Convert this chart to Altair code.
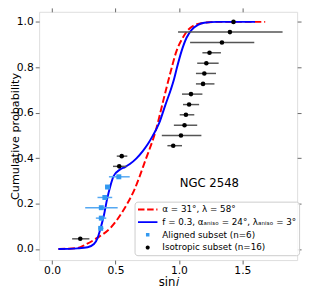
import altair as alt
import pandas as pd

# ---------------- data ----------------
# Isotropic model curve (red dashed)
red_x = [0.05, 0.20, 0.268, 0.358, 0.46, 0.562, 0.651, 0.735, 0.817, 0.875, 0.932, 0.98, 1.03, 1.073, 1.12, 1.20, 1.30, 1.68]
red_y = [0.0, 0.005, 0.021, 0.05, 0.093, 0.171, 0.264, 0.39, 0.521, 0.65, 0.775, 0.87, 0.93, 0.965, 0.985, 0.996, 1.0, 1.0]

# Mixture model curve (blue solid)
blue_x = [0.05, 0.20, 0.28, 0.33, 0.36, 0.383, 0.409, 0.434, 0.46, 0.485, 0.536, 0.575, 0.613, 0.665, 0.715, 0.755,
          0.792, 0.843, 0.894, 0.935, 0.96, 0.985, 1.02, 1.06, 1.10, 1.15, 1.20, 1.30, 1.60]
blue_y = [0.0, 0.003, 0.008, 0.022, 0.05, 0.093, 0.15, 0.221, 0.279, 0.321, 0.35, 0.361, 0.374, 0.399, 0.431, 0.462,
          0.497, 0.553, 0.636, 0.70, 0.745, 0.80, 0.87, 0.93, 0.965, 0.987, 0.996, 1.0, 1.0]

# Aligned subset (n=6)
al_x = [0.383, 0.388, 0.388, 0.416, 0.437, 0.526]
al_y = [0.091, 0.136, 0.182, 0.227, 0.273, 0.318]
al_lo = [0.366, 0.345, 0.261, 0.358, 0.417, 0.448]
al_hi = [0.405, 0.427, 0.517, 0.474, 0.453, 0.612]

# Isotropic subset (n=16)
iso_x = [0.222, 0.529, 0.549, 0.955, 1.016, 1.044, 1.055, 1.08, 1.095, 1.19, 1.20, 1.216, 1.241, 1.339, 1.402, 1.43]
iso_y = [0.045, 0.364, 0.409, 0.455, 0.500, 0.545, 0.591, 0.636, 0.682, 0.727, 0.773, 0.818, 0.864, 0.909, 0.955, 1.0]
iso_lo = [0.158, 0.48, 0.51, 0.909, 0.865, 0.96, 1.006, 1.032, 1.024, 1.134, 1.134, 1.144, 1.185, 1.088, 0.993, 1.43]
iso_hi = [0.294, 0.587, 0.593, 1.024, 1.177, 1.144, 1.121, 1.159, 1.185, 1.28, 1.292, 1.313, 1.331, 1.594, 1.817, 1.43]

legend_labels = [
    "α = 31°, λ = 58°",
    "f = 0.3, αₐₙᵢₛₒ = 24°, λₐₙᵢₛₒ = 3°",
    "Aligned subset (n=6)",
    "Isotropic subset (n=16)",
]
annotation = ["NGC 2548"]
x_ticks = [0.0, 0.5, 1.0, 1.5]
y_ticks = [0.0, 0.2, 0.4, 0.6, 0.8, 1.0]

# ---------------- frames ----------------
red_df = pd.DataFrame({"x": red_x, "y": red_y})
blue_df = pd.DataFrame({"x": blue_x, "y": blue_y})
al_df = pd.DataFrame({"x": al_x, "y": al_y, "lo": al_lo, "hi": al_hi})
iso_df = pd.DataFrame({"x": iso_x, "y": iso_y, "lo": iso_lo, "hi": iso_hi})
leg_df = pd.DataFrame({"label": legend_labels})
txt_df = pd.DataFrame({"x": [1.24], "y": [0.273], "t": annotation})

FONT = "DejaVu Sans"
AX = "#666666"
xs = alt.Scale(domain=[-0.102, 1.932], nice=False, zero=False)
ys = alt.Scale(domain=[-0.0486, 1.0443], nice=False, zero=False)

x_axis = alt.Axis(values=x_ticks, format=".1f", tickSize=4, tickColor=AX, domain=False, grid=False,
                  labelFontSize=11, labelColor="black", labelFont=FONT, labelPadding=1,
                  title="sin𝑖", titleFontSize=12, titleFontWeight="normal", titleFont=FONT,
                  titleColor="black", titlePadding=1)
y_axis = alt.Axis(values=y_ticks, format=".1f", tickSize=4, tickColor=AX, domain=False, grid=False,
                  labelFontSize=11, labelColor="black", labelFont=FONT, labelPadding=2,
                  title="Cumulative probability", titleFontSize=11.5, titleFontWeight="normal",
                  titleFont=FONT, titleColor="black", titleX=-30, titleAngle=270,
                  titleBaseline="top", titleAlign="center")
x_top = alt.Axis(orient="top", values=x_ticks, labels=False, title=None, tickSize=4, tickColor=AX,
                 domain=False, grid=False)
y_right = alt.Axis(orient="right", values=y_ticks, labels=False, title=None, tickSize=4, tickColor=AX,
                   domain=False, grid=False)

red = alt.Chart(red_df).mark_line(color="#ff0000", strokeWidth=2, strokeDash=[7, 3],
                                  interpolate="monotone").encode(
    x=alt.X("x:Q", scale=xs, axis=x_axis),
    y=alt.Y("y:Q", scale=ys, axis=y_axis),
)
blue = alt.Chart(blue_df).mark_line(color="#0000ff", strokeWidth=2, interpolate="monotone").encode(
    x=alt.X("x:Q", scale=xs, axis=x_top),
    y=alt.Y("y:Q", scale=ys, axis=y_right),
)
al_err = alt.Chart(al_df).mark_rule(color="#55a8f2", strokeWidth=1.5).encode(
    x=alt.X("lo:Q", scale=xs, axis=None), x2="hi:Q", y=alt.Y("y:Q", scale=ys, axis=None))
al_pts = alt.Chart(al_df).mark_point(shape="square", filled=True, size=26, color="#3399f0",
                                     opacity=1).encode(
    x=alt.X("x:Q", scale=xs, axis=None), y=alt.Y("y:Q", scale=ys, axis=None))
iso_err = alt.Chart(iso_df).mark_rule(color="#555555", strokeWidth=1.5).encode(
    x=alt.X("lo:Q", scale=xs, axis=None), x2="hi:Q", y=alt.Y("y:Q", scale=ys, axis=None))
iso_pts = alt.Chart(iso_df).mark_point(shape="circle", filled=True, size=22, color="black",
                                       opacity=1).encode(
    x=alt.X("x:Q", scale=xs, axis=None), y=alt.Y("y:Q", scale=ys, axis=None))
txt = alt.Chart(txt_df).mark_text(font=FONT, fontSize=12, align="center", baseline="alphabetic",
                                  color="black").encode(
    x=alt.X("x:Q", scale=xs, axis=None), y=alt.Y("y:Q", scale=ys, axis=None), text="t:N")

leg_paths = [
    "M-1,0H-0.33M-0.06,0H0.61M0.88,0H1",
    "M-1,0H1",
    "M-0.18,-0.18H0.18V0.18H-0.18Z",
    "M-0.21,0A0.21,0.21,0,1,1,0.21,0A0.21,0.21,0,1,1,-0.21,0Z",
]
leg_fill = ["transparent", "transparent", "#3399f0", "black"]
leg_stroke = ["#ff0000", "#0000ff", "transparent", "transparent"]
LEG = alt.Legend(title=None, orient="none", legendX=98, legendY=195, padding=2.5,
                 symbolSize=400, symbolStrokeWidth=2, labelFontSize=9, labelFont=FONT,
                 labelColor="black", labelOffset=4, clipHeight=11, rowPadding=2, labelLimit=400,
                 strokeColor="#cccccc", fillColor="rgba(255,255,255,0.8)", cornerRadius=3)
legend = alt.Chart(leg_df).mark_point(opacity=1, clip=True).encode(
    x=alt.value(-500), y=alt.value(-500),
    shape=alt.Shape("label:N", scale=alt.Scale(domain=legend_labels, range=leg_paths), legend=LEG),
    fill=alt.Fill("label:N", scale=alt.Scale(domain=legend_labels, range=leg_fill), legend=LEG),
    stroke=alt.Stroke("label:N", scale=alt.Scale(domain=legend_labels, range=leg_stroke), legend=LEG),
)

chart = alt.layer(red, blue, al_err, al_pts, iso_err, iso_pts, txt, legend).resolve_axis(
    x="independent", y="independent"
).properties(
    width=265, height=255,
    autosize=alt.AutoSizeParams(type="none"),
    padding={"left": 32, "top": 0, "right": 6, "bottom": 34},
).configure_view(stroke=AX, strokeWidth=1).configure(font=FONT)

chart.save("out.html", embed_options={"renderer": "svg", "actions": False})
